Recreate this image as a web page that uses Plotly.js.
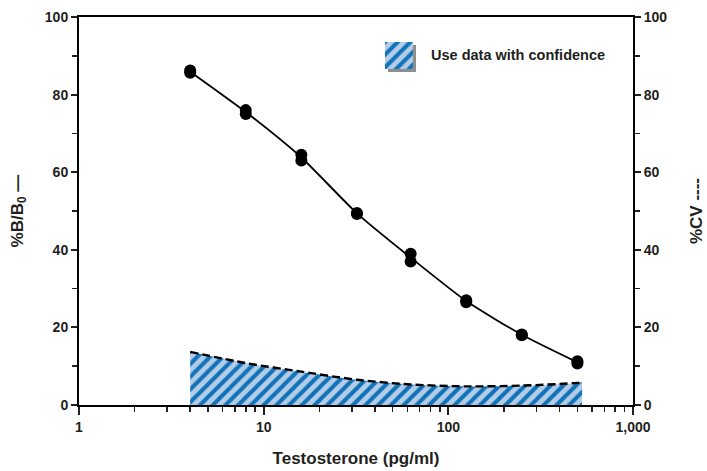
<!DOCTYPE html>
<html>
<head>
<meta charset="utf-8">
<script src="https://cdn.plot.ly/plotly-3.0.1.min.js"></script>
<style>html,body{margin:0;padding:0;background:#fff;}#chart{width:707px;height:471px;}</style>
</head>
<body>
<div id="chart"></div>
<script>
// Standards (pg/ml) and replicate %B/B0 readings
const concentrations = [4, 4, 8, 8, 16, 16, 32, 32, 62.5, 62.5, 125, 125, 250, 250, 500, 500];
const percentBB0 = [86.2, 85.6, 76, 75, 64.5, 63, 49.5, 49.2, 39, 37, 27, 26.5, 18.2, 18, 11.3, 10.7];
// Fitted curve through the standards
const curveConc = [4, 8, 16, 32, 62.5, 125, 250, 500];
const curveBB0 = [85.9, 75.5, 63.8, 49.4, 38, 26.8, 18.1, 11];
// %CV profile
const cvConc = [4, 8, 16, 32, 62.5, 125, 250, 500, 530];
const cvValues = [13.7, 10.8, 8.6, 6.5, 5.3, 4.8, 5.0, 5.7, 5.9];
// Axis ticks
const xTickVals = [1, 10, 100, 1000];
const xTickText = ['1', '10', '100', '1,000'];
const xMinorVals = [2,3,4,5,6,7,8,9,20,30,40,50,60,70,80,90,200,300,400,500,600,700,800,900];
const yTickVals = [0, 20, 40, 60, 80, 100];
const yMinorVals = [10, 30, 50, 70, 90];
// Legend swatch (in the legend's own small frame)
const legendLabel = 'Use data with confidence';
const swatchX = [0, 1, 1, 0, 0], swatchY = [0, 0, 1, 1, 0];

const ink = '#231f20';
const fam = 'Liberation Sans, Arial, sans-serif';
const tickFont = {family: fam, size: 14, color: ink, weight: 'bold'};
const titleFont = {family: fam, size: 17, color: ink, weight: 'bold'};
const pattern = {shape: '/', fgcolor: '#1072b8', bgcolor: '#b3cce8', size: 9, solidity: 0.45, fillmode: 'replace'};

const traces = [
  {x: cvConc, y: cvValues, xaxis: 'x', yaxis: 'y2', type: 'scatter', mode: 'lines',
   line: {color: '#000', width: 2.4, dash: '8px,4px', shape: 'spline', smoothing: 0.8},
   fill: 'tozeroy', fillcolor: '#b3cce8', fillpattern: pattern, hoverinfo: 'skip'},
  {x: curveConc, y: curveBB0, type: 'scatter', mode: 'lines',
   line: {color: '#000', width: 1.8, shape: 'spline', smoothing: 0.6}},
  {x: concentrations, y: percentBB0, type: 'scatter', mode: 'markers',
   marker: {color: '#000', size: 12, symbol: 'circle'}},
  {x: swatchX, y: swatchY, xaxis: 'x3', yaxis: 'y3', type: 'scatter', mode: 'lines',
   line: {width: 0, color: 'rgba(0,0,0,0)'}, fill: 'toself', fillcolor: '#b3cce8', fillpattern: pattern, hoverinfo: 'skip'}
];

const layout = {
  width: 707, height: 471,
  margin: {l: 79, r: 74, t: 17, b: 66},
  paper_bgcolor: '#fff', plot_bgcolor: 'rgba(0,0,0,0)',
  showlegend: false,
  font: tickFont,
  xaxis: {
    type: 'log', range: [0, 3], tickvals: xTickVals, ticktext: xTickText,
    ticks: 'outside', ticklen: 8, tickwidth: 2, tickcolor: ink,
    minor: {tickvals: xMinorVals, ticks: 'outside', ticklen: 5, tickwidth: 1.5, tickcolor: ink},
    showline: true, linewidth: 2, linecolor: '#000', mirror: true,
    showgrid: false, zeroline: false, tickfont: tickFont,
    title: {text: 'Testosterone (pg/ml)', font: titleFont, standoff: 18}
  },
  yaxis: {
    range: [0, 100], tickvals: yTickVals,
    ticks: 'outside', ticklen: 6, tickwidth: 2, tickcolor: ink,
    minor: {tickvals: yMinorVals, ticks: 'outside', ticklen: 5, tickwidth: 1.5, tickcolor: ink},
    showline: true, linewidth: 2, linecolor: '#000',
    showgrid: false, zeroline: false, tickfont: tickFont,
    title: {text: '%B/B<sub>0</sub> —', font: titleFont, standoff: 17}
  },
  yaxis2: {
    overlaying: 'y', side: 'right', range: [0, 100], tickvals: yTickVals,
    ticks: 'outside', ticklen: 6, tickwidth: 2, tickcolor: ink,
    minor: {tickvals: yMinorVals, ticks: 'outside', ticklen: 5, tickwidth: 1.5, tickcolor: ink},
    showline: true, linewidth: 2, linecolor: '#000',
    showgrid: false, zeroline: false, tickfont: tickFont,
    title: {text: '%CV ----', font: titleFont, standoff: 24}
  },
  xaxis3: {anchor: 'y3', domain: [0.5523, 0.6029], range: [0, 1], visible: false, fixedrange: true},
  yaxis3: {anchor: 'x3', domain: [0.8660, 0.9356], range: [0, 1], visible: false, fixedrange: true},
  shapes: [
    {type: 'rect', xref: 'paper', yref: 'paper', x0: 0.6029, x1: 0.6083, y0: 0.8582, y1: 0.9278,
     fillcolor: '#8e8e8e', line: {width: 0}, layer: 'above'},
    {type: 'rect', xref: 'paper', yref: 'paper', x0: 0.5578, x1: 0.6083, y0: 0.8582, y1: 0.8660,
     fillcolor: '#8e8e8e', line: {width: 0}, layer: 'above'}
  ],
  annotations: [
    {text: legendLabel, xref: 'paper', yref: 'paper', x: 0.632, y: 0.902, xanchor: 'left', yanchor: 'middle',
     showarrow: false, font: {family: fam, size: 14.5, color: ink, weight: 'bold'}}
  ]
};

Plotly.newPlot('chart', traces, layout, {staticPlot: true, displayModeBar: false});
</script>
</body>
</html>
